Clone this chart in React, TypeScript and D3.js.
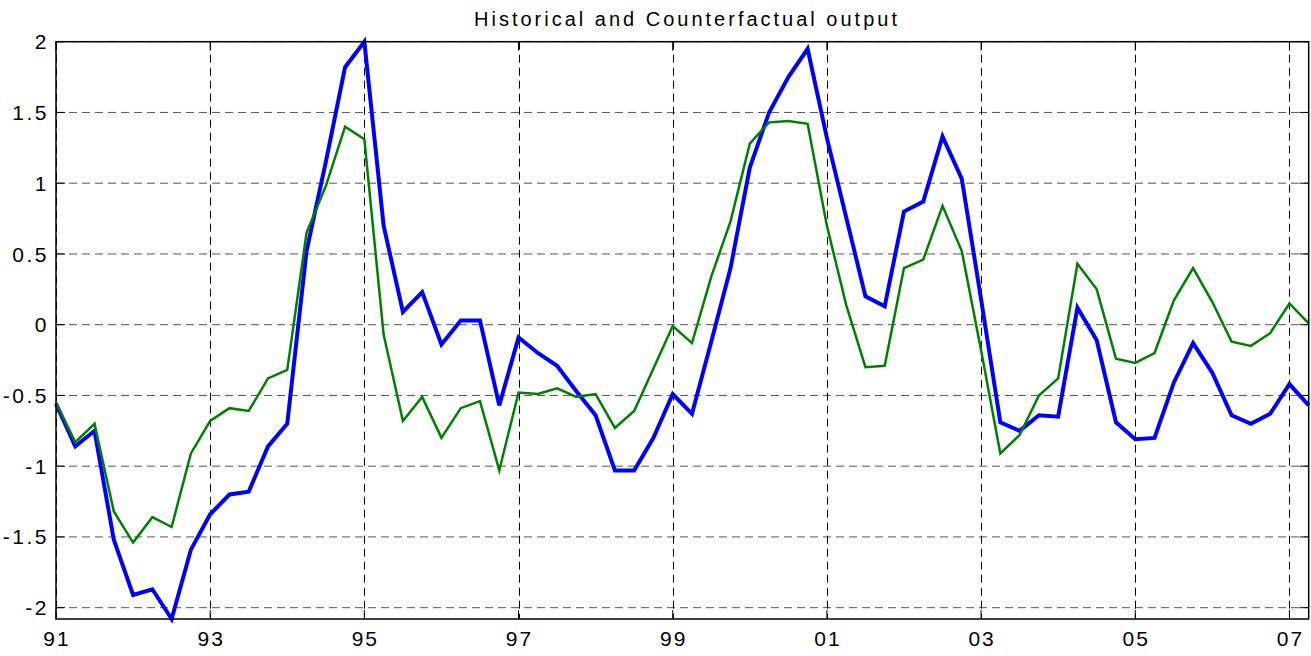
import React from "react";
import * as d3 from "d3";

// quarterly, 1991Q1 .. 2007Q2
const historical = [
  -0.56, -0.86, -0.75, -1.52, -1.91, -1.87, -2.08, -1.59, -1.34, -1.2, -1.18,
  -0.86, -0.7, 0.52, 1.15, 1.82, 2.0, 0.7, 0.09, 0.23, -0.14, 0.03, 0.03, -0.57,
  -0.09, -0.2, -0.29, -0.47, -0.64, -1.03, -1.03, -0.8, -0.49, -0.63, -0.12, 0.4,
  1.11, 1.5, 1.75, 1.95, 1.32, 0.76, 0.2, 0.13, 0.8, 0.87, 1.33, 1.03, 0.18,
  -0.69, -0.75, -0.64, -0.65, 0.12, -0.11, -0.69, -0.81, -0.8, -0.41, -0.13,
  -0.34, -0.64, -0.7, -0.63, -0.42, -0.57,
];

const counterfactual = [
  -0.55, -0.83, -0.7, -1.32, -1.54, -1.36, -1.43, -0.91, -0.68, -0.59, -0.61,
  -0.38, -0.32, 0.65, 0.98, 1.4, 1.31, -0.07, -0.68, -0.51, -0.8, -0.59, -0.54,
  -1.03, -0.48, -0.49, -0.45, -0.51, -0.49, -0.73, -0.61, -0.31, -0.01, -0.13,
  0.34, 0.73, 1.28, 1.43, 1.44, 1.42, 0.7, 0.14, -0.3, -0.29, 0.4, 0.46, 0.84,
  0.52, -0.18, -0.91, -0.78, -0.5, -0.38, 0.43, 0.25, -0.24, -0.27, -0.2, 0.17,
  0.4, 0.16, -0.12, -0.15, -0.06, 0.15, 0.01,
];

const xTickYears = [1991, 1993, 1995, 1997, 1999, 2001, 2003, 2005, 2007];
const xTickLabels = ["91", "93", "95", "97", "99", "01", "03", "05", "07"];
const yTicks = [-2, -1.5, -1, -0.5, 0, 0.5, 1, 1.5, 2];
const yTickLabels = ["-2", "-1.5", "-1", "-0.5", "0", "0.5", "1", "1.5", "2"];

const W = 1311;
const H = 656;
const left = 56;
const right = 1308.7;
const top = 41.7;
const bottom = 619;
const font = "'Liberation Sans', Arial, Helvetica, sans-serif";

export default function App() {
  const startYear = 1991;
  const dates = historical.map((_, i) => startYear + i / 4);

  const x = d3.scaleLinear().domain([1991, 2007.25]).range([left, right]);
  const y = d3.scaleLinear().domain([-2.08, 2]).range([bottom, top]);

  const line = d3
    .line<number>()
    .x((_, i) => x(dates[i]))
    .y((d) => y(d));

  const tick = 9;

  return (
    <div style={{ position: "absolute", left: 0, top: 0 }}>
      <svg width={W} height={H} style={{ display: "block", background: "#fff" }}>
        {/* grid */}
        {yTicks.map((t) => (
          <line
            key={"gy" + t}
            x1={left}
            x2={right}
            y1={y(t)}
            y2={y(t)}
            stroke="#555"
            strokeWidth={1}
            strokeDasharray="8,5"
          />
        ))}
        {xTickYears.map((t) => (
          <line
            key={"gx" + t}
            x1={Math.round(x(t)) + 0.5}
            x2={Math.round(x(t)) + 0.5}
            y1={top}
            y2={bottom}
            stroke="#000"
            strokeWidth={1}
            strokeDasharray="8,5"
          />
        ))}

        {/* ticks (inside, all four sides) */}
        {yTicks.map((t) => (
          <g key={"ty" + t} stroke="#000" strokeWidth={1}>
            <line x1={left} x2={left + tick} y1={y(t)} y2={y(t)} />
            <line x1={right} x2={right - tick} y1={y(t)} y2={y(t)} />
          </g>
        ))}
        {xTickYears.map((t) => (
          <g key={"tx" + t} stroke="#000" strokeWidth={1}>
            <line x1={x(t)} x2={x(t)} y1={bottom} y2={bottom - tick} />
            <line x1={x(t)} x2={x(t)} y1={top} y2={top + tick} />
          </g>
        ))}

        {/* series */}
        <path
          d={line(historical) ?? ""}
          fill="none"
          stroke="#0000ff"
          strokeWidth={4}
          strokeLinejoin="miter"
        />
        <path
          d={line(counterfactual) ?? ""}
          fill="none"
          stroke="#008000"
          strokeWidth={2.5}
          strokeLinejoin="miter"
        />

        {/* axes box */}
        <rect
          x={left}
          y={top}
          width={right - left}
          height={bottom - top}
          fill="none"
          stroke="#000"
          strokeWidth={1.5}
        />

        {/* tick labels */}
        {yTicks.map((t, i) => (
          <text
            key={"ly" + t}
            x={49}
            y={y(t)}
            dy="0.36em"
            textAnchor="end"
            fontFamily={font}
            fontSize={21}
            letterSpacing={2.5}
            fill="#000"
          >
            {yTickLabels[i]}
          </text>
        ))}
        {xTickYears.map((t, i) => (
          <text
            key={"lx" + t}
            x={x(t) + 1}
            y={646}
            textAnchor="middle"
            fontFamily={font}
            fontSize={21}
            letterSpacing={2}
            fill="#000"
          >
            {xTickLabels[i]}
          </text>
        ))}

        {/* title */}
        <text
          x={687}
          y={26}
          textAnchor="middle"
          fontFamily={font}
          fontSize={20}
          letterSpacing={3}
          fill="#000"
        >
          Historical and Counterfactual output
        </text>
      </svg>
    </div>
  );
}
